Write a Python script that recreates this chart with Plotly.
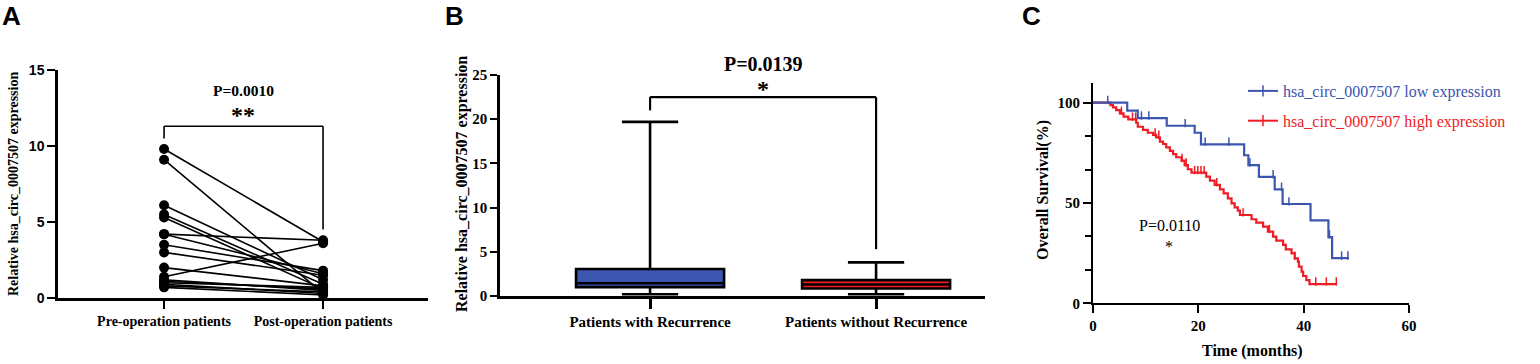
import plotly.graph_objects as go

W, H = 1540, 364
SERIF = "Liberation Serif, Times New Roman, serif"
SANS = "Liberation Sans, Arial, sans-serif"
BLUE = "#3C55AE"
RED = "#EE1C25"

# ---------------- Panel A data ----------------
a_categories = ["Pre-operation patients", "Post-operation patients"]
a_pre = [9.8, 9.1, 6.1, 5.5, 5.3, 4.2, 4.2, 3.5, 3.0, 2.0, 1.4, 1.2, 1.1, 1.0, 0.9, 0.8, 0.7]
a_post = [3.7, 0.3, 1.2, 0.9, 0.6, 3.8, 1.6, 1.8, 1.5, 0.8, 3.6, 0.5, 0.6, 0.7, 0.3, 0.4, 0.2]
a_yticks = [0, 5, 10, 15]
a_pvalue = "P=0.0010"
a_stars = "**"
a_bracket = [10.5, 11.3, 4.5]   # left leg bottom, top, right leg bottom

# ---------------- Panel B data ----------------
b_categories = ["Patients with Recurrence", "Patients without Recurrence"]
b_lowerfence = [0.2, 0.2]
b_q1 = [1.0, 0.85]
b_median = [1.45, 1.3]
b_q3 = [3.05, 1.8]
b_upperfence = [19.7, 3.8]
b_colors = [BLUE, RED]
b_yticks = [0, 5, 10, 15, 20, 25]
b_pvalue = "P=0.0139"
b_stars = "*"
b_bracket = [21.0, 22.5, 5.3]

# ---------------- Panel C data ----------------
c_low_name = "hsa_circ_0007507 low expression"
c_high_name = "hsa_circ_0007507 high expression"
low_times = [6.5, 8.5, 14.0, 19.3, 20.5, 28.7, 29.5, 31.5, 34.5, 36.0, 41.3, 44.7, 45.4]
low_surv = [96.0, 92.3, 88.5, 85.0, 79.2, 73.8, 68.9, 63.0, 56.8, 49.5, 41.3, 33.0, 22.5]
low_end = 48.6
low_censor = [2.8, 9.2, 10.6, 17.5, 21.3, 25.8, 29.8, 34.2, 35.8, 37.2, 44.9, 47.2, 48.4]

high_times = [3.3, 3.8, 4.4, 5.1, 5.8, 6.7, 8.2, 8.5, 9.5, 10.4, 11.4, 12.0, 12.7, 13.3,
              13.9, 14.6, 15.2, 15.8, 16.8, 17.4, 18.0, 18.7, 21.5, 22.2, 23.1, 24.1,
              24.8, 25.6, 26.3, 26.9, 27.5, 27.9, 30.1, 31.0, 32.3, 33.2, 34.2, 34.8,
              36.1, 36.6, 37.7, 38.3, 38.9, 39.1, 39.6, 39.9, 40.5, 41.1]
high_surv = [98.8, 97.7, 96.3, 94.7, 93.0, 91.7, 90.0, 88.0, 86.4, 85.0, 83.9, 82.7, 80.6, 79.4,
             77.7, 76.0, 74.4, 72.8, 71.1, 68.9, 66.8, 65.1, 63.1, 61.1, 59.0, 56.8,
             54.8, 52.3, 49.8, 47.8, 46.2, 44.0, 41.9, 40.2, 38.2, 35.7, 33.2, 31.2,
             29.1, 26.9, 24.9, 22.4, 20.8, 18.3, 15.8, 13.6, 11.6, 9.6]
high_end = 46.3
high_censor = [5.4, 7.5, 8.1, 11.8, 12.5, 16.9, 17.7, 19.3, 19.9, 20.5, 21.1, 23.5, 28.5,
               33.5, 38.3, 42.3, 44.3, 46.2]
c_xticks = [0, 20, 40, 60]
c_yticks = [0, 50, 100]
c_pvalue = "P=0.0110"
c_stars = "*"


def px_x(p):
    return p / W


def px_y(p):
    return 1 - p / H


def surv_at(t, times, surv):
    s = 100.0
    for ti, si in zip(times, surv):
        if ti <= t:
            s = si
    return s


fig = go.Figure()

# ---------- Panel A ----------
xs, ys = [], []
for p, q in zip(a_pre, a_post):
    xs += [0, 1, None]
    ys += [p, q, None]
fig.add_trace(go.Scatter(x=xs, y=ys, mode="lines+markers", xaxis="x", yaxis="y",
                         line=dict(color="black", width=1.6),
                         marker=dict(color="black", size=10), cliponaxis=False,
                         showlegend=False))

# ---------- Panel B ----------
for i in range(2):
    fig.add_trace(go.Box(x=[i], q1=[b_q1[i]], median=[b_median[i]], q3=[b_q3[i]],
                         lowerfence=[b_lowerfence[i]], upperfence=[b_upperfence[i]],
                         xaxis="x2", yaxis="y2", width=0.655, whiskerwidth=0.38,
                         fillcolor=b_colors[i], line=dict(color="black", width=2.6),
                         showlegend=False, boxpoints=False))

# ---------- Panel C ----------
def km_xy(times, surv, end):
    return [0] + times + [end], [100.0] + surv + [surv[-1]]


for times, surv, end, cens, col in [(high_times, high_surv, high_end, high_censor, RED),
                                    (low_times, low_surv, low_end, low_censor, BLUE)]:
    kx, ky = km_xy(times, surv, end)
    fig.add_trace(go.Scatter(x=kx, y=ky, mode="lines", line=dict(color=col, width=2.2, shape="hv"),
                             xaxis="x3", yaxis="y3", showlegend=False, cliponaxis=False))
    fig.add_trace(go.Scatter(x=cens, y=[surv_at(t, times, surv) + 1.3 for t in cens],
                             mode="markers", xaxis="x3", yaxis="y3", showlegend=False,
                             marker=dict(symbol="line-ns", size=6, line=dict(color=col, width=1.5)),
                             cliponaxis=False))

for name, col, rank in [(c_low_name, BLUE, 1), (c_high_name, RED, 2)]:
    fig.add_trace(go.Scatter(x=[None], y=[None], mode="lines+markers", xaxis="x3", yaxis="y3",
                             name=f"<span style='color:{col}'>{name}</span>",
                             legendgroup=name, legendrank=rank,
                             line=dict(color=col, width=2),
                             marker=dict(symbol="line-ns", size=8, line=dict(color=col, width=1.5))))

axis_common = dict(showline=True, linecolor="black", zeroline=False, showgrid=False,
                   ticks="outside", tickcolor="black", automargin=False)

layout = dict(
    width=W, height=H, margin=dict(l=0, r=0, t=0, b=0, autoexpand=False),
    paper_bgcolor="white", plot_bgcolor="white",
    xaxis=dict(domain=[px_x(58), px_x(428)], range=[-0.667, 1.66], anchor="y",
               tickvals=[0, 1], ticktext=a_categories, ticklen=8, tickwidth=2, linewidth=2.5,
               tickfont=dict(family=SERIF, size=14, color="black", weight="bold"), **axis_common),
    yaxis=dict(domain=[px_y(298), px_y(70)], range=[0, 15], anchor="x",
               tickvals=a_yticks, ticklen=8, tickwidth=2, linewidth=2.5,
               tickfont=dict(family=SANS, size=14, color="black", weight="bold"), **axis_common),
    xaxis2=dict(domain=[px_x(500), px_x(985)], range=[-0.664, 1.482], anchor="y2",
                tickvals=[0, 1], ticktext=b_categories, ticklen=10, tickwidth=2.5, linewidth=2.5,
                tickfont=dict(family=SERIF, size=15, color="black", weight="bold"), **axis_common),
    yaxis2=dict(domain=[px_y(296), px_y(75)], range=[0, 25], anchor="x2",
                tickvals=b_yticks, ticklen=7, tickwidth=2, linewidth=2.5,
                tickfont=dict(family=SERIF, size=15, color="black", weight="bold"), **axis_common),
    xaxis3=dict(domain=[px_x(1093), px_x(1409)], range=[0, 60], anchor="y3",
                tickvals=c_xticks, ticklen=8, tickwidth=2, linewidth=2,
                tickfont=dict(family=SERIF, size=15, color="black", weight="bold"), **axis_common),
    yaxis3=dict(domain=[px_y(303.3), px_y(82.6)], range=[0, 110], anchor="x3",
                tickvals=c_yticks, ticklen=8, tickwidth=2, linewidth=2,
                minor=dict(dtick=50 / 3, ticks="outside", ticklen=6, tickwidth=1.5, tickcolor="black"),
                tickfont=dict(family=SERIF, size=15, color="black", weight="bold"), **axis_common),
    legend=dict(x=px_x(1243), y=px_y(74), xanchor="left", yanchor="top",
                font=dict(family=SERIF, size=16), bgcolor="rgba(0,0,0,0)",
                traceorder="grouped", tracegroupgap=6, itemwidth=30),
)
fig.update_layout(**layout)

shapes = []
for xr, yr, br, w in [("x", "y", a_bracket, 1.6), ("x2", "y2", b_bracket, 2.2)]:
    lb, top, rb = br
    shapes += [
        dict(type="line", xref=xr, yref=yr, x0=0, x1=0, y0=lb, y1=top, line=dict(color="black", width=w)),
        dict(type="line", xref=xr, yref=yr, x0=0, x1=1, y0=top, y1=top, line=dict(color="black", width=w)),
        dict(type="line", xref=xr, yref=yr, x0=1, x1=1, y0=top, y1=rb, line=dict(color="black", width=w)),
    ]
fig.update_layout(shapes=shapes)

ann = []


def add_text(text, x, y, family, size, weight="normal", angle=0, color="black"):
    ann.append(dict(text=text, x=px_x(x), y=px_y(y), xref="paper", yref="paper",
                    showarrow=False, xanchor="center", yanchor="middle", textangle=angle,
                    font=dict(family=family, size=size, color=color, weight=weight)))


# panel letters
add_text("A", 11, 16, SANS, 26, "bold")
add_text("B", 454, 16, SANS, 26, "bold")
add_text("C", 1031, 16, SANS, 26, "bold")
# axis titles
ytitle = "Relative hsa_circ_0007507 expression"
add_text(ytitle, 13, 184, SERIF, 14, "bold", -90)
add_text(ytitle, 462, 184, SERIF, 16, "bold", -90)
add_text("Overall Survival(%)", 1043, 190, SERIF, 16, "bold", -90)
add_text("Time (months)", 1252, 351, SERIF, 16, "bold")
# p-values
add_text(a_pvalue, 243, 90, SERIF, 15.5, "bold")
add_text(a_stars, 243, 115, SERIF, 24, "bold")
add_text(b_pvalue, 763, 64, SERIF, 20, "bold")
add_text(b_stars, 763, 89, SERIF, 24, "bold")
add_text(c_pvalue, 1169, 225, SERIF, 16)
add_text(c_stars, 1169, 246, SERIF, 16)
fig.update_layout(annotations=ann)

fig.write_html("out.html", config={"displayModeBar": False},
               post_script="document.body.style.margin='0';document.body.style.padding='0';"
                           "document.documentElement.style.overflow='hidden';")
